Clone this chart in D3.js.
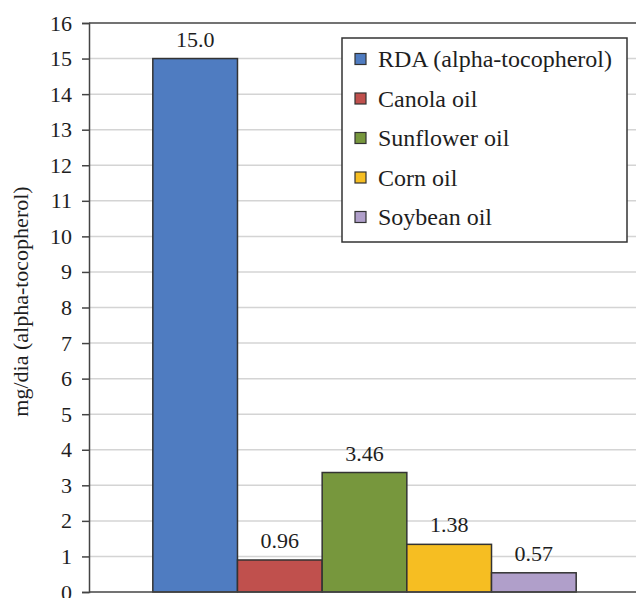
<!DOCTYPE html>
<html>
<head>
<meta charset="utf-8">
<script src="https://cdn.jsdelivr.net/npm/d3@7"></script>
<style>
  body { margin: 0; background: #fff; }
  text { font-family: "Liberation Serif", "DejaVu Serif", serif; fill: #1e1e1e; }
</style>
</head>
<body>
<div id="chart"></div>
<script>
// Data
var series = ["RDA (alpha-tocopherol)", "Canola oil", "Sunflower oil", "Corn oil", "Soybean oil"];
var barValues = [15.0, 0.9, 3.36, 1.34, 0.54];
var barLabels = ["15.0", "0.96", "3.46", "1.38", "0.57"];
var colors = ["#4f7cc1", "#c0504d", "#77973d", "#f6be22", "#b09fca"];
var yTicks = d3.range(0, 17);

var width = 636, height = 598;
var margin = {top: 23, right: 0, bottom: 6, left: 89};
var w = width - margin.left - margin.right,
    h = height - margin.top - margin.bottom;

var svg = d3.select("#chart")
  .append("svg")
  .attr("width", width)
  .attr("height", height)
  .append("g")
  .attr("transform", `translate(${margin.left},${margin.top})`);

var y = d3.scaleLinear().domain([0, 16]).range([h, 0]);

// one category group holding the five bars
var x0 = d3.scaleBand().domain(["all"]).range([0, w]).paddingOuter(0.146).paddingInner(0);
var x = d3.scaleBand().domain(series).range([x0("all") + 2, x0("all") + 2 + x0.bandwidth()]).padding(0);

// grid lines
svg.selectAll(".grid")
  .data(yTicks.filter(d => d > 0 && d < 16))
  .enter()
  .append("line")
  .attr("x1", 0).attr("x2", w)
  .attr("y1", d => y(d)).attr("y2", d => y(d))
  .style("stroke", "#d4d4d4")
  .style("stroke-width", 1.5);

// top frame line
svg.append("line")
  .attr("x1", 0).attr("x2", w)
  .attr("y1", y(16)).attr("y2", y(16))
  .style("stroke", "#444").style("stroke-width", 1.5);

// bars
svg.selectAll(".bar")
  .data(series)
  .enter()
  .append("rect")
  .attr("x", d => x(d))
  .attr("width", x.bandwidth())
  .attr("y", (d, i) => y(barValues[i]))
  .attr("height", (d, i) => h - y(barValues[i]))
  .attr("fill", (d, i) => colors[i])
  .style("stroke", "#333")
  .style("stroke-width", 1.5);

// value labels
svg.selectAll(".val")
  .data(series)
  .enter()
  .append("text")
  .attr("x", d => x(d) + x.bandwidth() / 2)
  .attr("y", (d, i) => y(barValues[i]) - 12)
  .attr("text-anchor", "middle")
  .style("font-size", "22px")
  .text((d, i) => barLabels[i]);

// y axis
var yAxis = d3.axisLeft(y).tickValues(yTicks).tickSize(7).tickPadding(10);
var ya = svg.append("g").call(yAxis);
ya.select(".domain").style("stroke", "#444").style("stroke-width", 1.5);
ya.selectAll(".tick line").style("stroke", "#444").style("stroke-width", 1.5);
ya.selectAll("text").style("font-size", "22px").style("font-family", "Liberation Serif, serif").attr("fill", "#1e1e1e");

// x axis baseline
svg.append("line")
  .attr("x1", 0).attr("x2", w)
  .attr("y1", h).attr("y2", h)
  .style("stroke", "#444").style("stroke-width", 1.5);

// y axis label
svg.append("text")
  .attr("transform", "rotate(-90)")
  .attr("x", -h / 2 + 6)
  .attr("y", -margin.left + 28)
  .attr("text-anchor", "middle")
  .style("font-size", "22px")
  .text("mg/dia (alpha-tocopherol)");

// legend
var lg = svg.append("g").attr("transform", `translate(${342 - margin.left},${38 - margin.top})`);
lg.append("rect")
  .attr("width", 285).attr("height", 204)
  .attr("fill", "#fff")
  .style("stroke", "#333").style("stroke-width", 1.5);
var item = lg.selectAll(".item")
  .data(series)
  .enter()
  .append("g")
  .attr("transform", (d, i) => `translate(13,${21 + i * 39.5})`);
item.append("rect")
  .attr("y", -5.5).attr("width", 11).attr("height", 11)
  .attr("fill", (d, i) => colors[i])
  .style("stroke", "#333").style("stroke-width", 1.2);
item.append("text")
  .attr("x", 23).attr("dy", "0.35em")
  .style("font-size", "24px")
  .text(d => d);
</script>
</body>
</html>
